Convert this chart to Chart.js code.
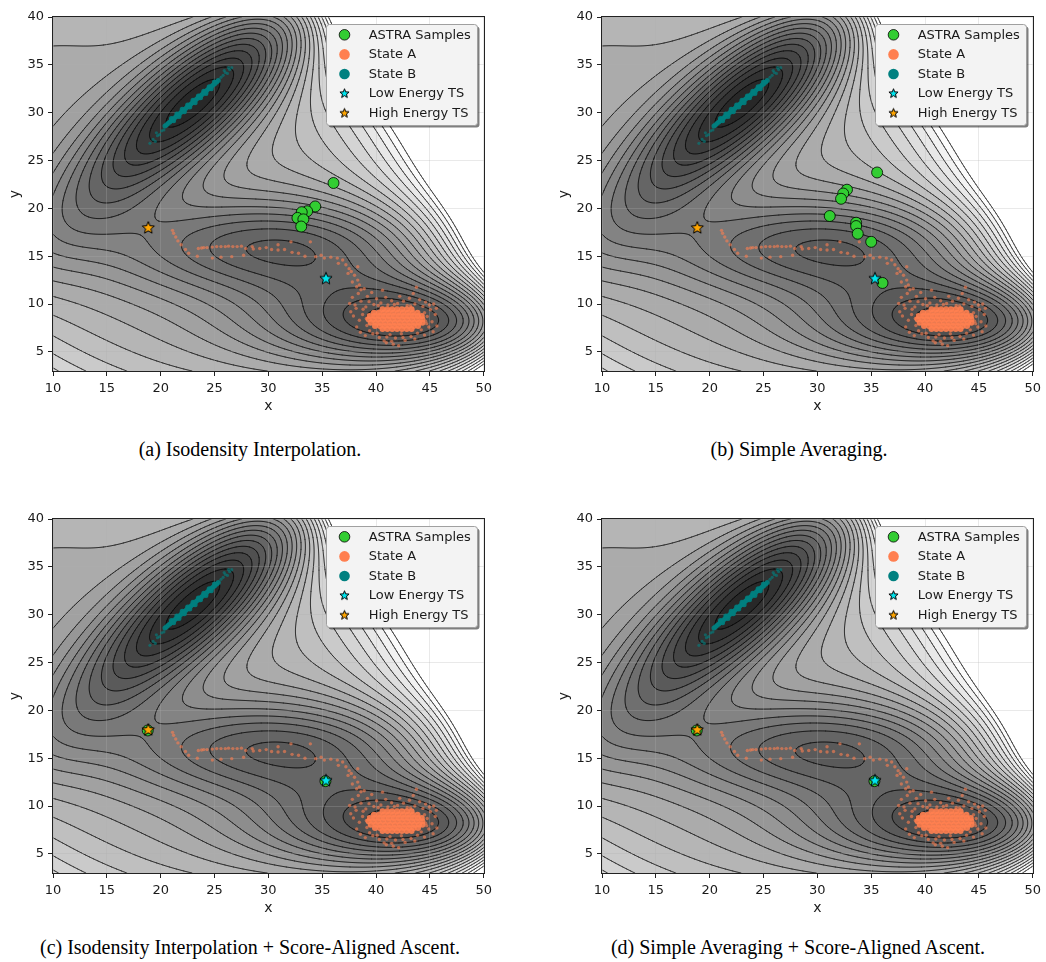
<!DOCTYPE html>
<html lang="en">
<head>
<meta charset="UTF-8" />
<title>ASTRA samples on the Mueller-Brown surface</title>
<script src="https://cdn.jsdelivr.net/npm/chart.js"></script>
<style>
  body { margin: 0; width: 1046px; height: 962px; background: #fff; position: relative; overflow: hidden; }
  .panel { position: absolute; }
  .caption {
    position: absolute; white-space: nowrap; transform: translateX(-50%);
    font-family: 'Liberation Serif', 'Times New Roman', serif; font-size: 20px; color: #000;
  }
</style>
</head>
<body>
<canvas id="panelA" class="panel" width="497" height="420" style="left:0px;top:0px"></canvas>
<canvas id="panelB" class="panel" width="497" height="420" style="left:549px;top:0px"></canvas>
<canvas id="panelC" class="panel" width="497" height="420" style="left:0px;top:502px"></canvas>
<canvas id="panelD" class="panel" width="497" height="420" style="left:549px;top:502px"></canvas>

<div class="caption" style="left:250px;top:438px">(a) Isodensity Interpolation.</div>
<div class="caption" style="left:799px;top:438px">(b) Simple Averaging.</div>
<div class="caption" style="left:250px;top:936px">(c) Isodensity Interpolation + Score-Aligned Ascent.</div>
<div class="caption" style="left:798px;top:936px">(d) Simple Averaging + Score-Aligned Ascent.</div>

<script>
  // --- axes ---
  const X_TICKS = [10, 15, 20, 25, 30, 35, 40, 45, 50];
  const Y_TICKS = [5, 10, 15, 20, 25, 30, 35, 40];

  // --- transition states ---
  const HIGH_TS = [[18.85, 17.95]];
  const LOW_TS = [[35.35, 12.65]];

  // --- ASTRA samples, one list per panel ---
  const ASTRA_A = [[36.05, 22.65], [34.35, 20.2], [33.6, 19.7], [33.1, 19.6], [32.7, 19.0], [33.25, 18.85], [33.05, 18.1]];
  const ASTRA_B = [[35.55, 23.75], [32.75, 21.95], [32.4, 21.55], [32.2, 21.0], [31.15, 19.2], [33.6, 18.5],
                   [33.6, 18.15], [33.75, 17.35], [35.0, 16.5], [36.05, 12.2]];
  const ASTRA_C = [[18.8, 17.9], [35.3, 12.6]];
  const ASTRA_D = [[18.8, 17.9], [35.3, 12.6]];

  // --- State A samples: dense core, halo around it, and the trail towards the saddles ---
  const STATE_A_CORE = [
    [40.6, 9.45], [41.05, 9.45], [41.5, 9.45], [41.95, 9.45], [42.4, 9.45], [42.85, 9.45], [43.3, 9.45],
    [39.8, 9.1], [40.25, 9.1], [40.7, 9.1], [41.15, 9.1], [41.6, 9.1], [42.05, 9.1], [42.5, 9.1], [42.95, 9.1], [43.4, 9.1], [43.85, 9.1],
    [39.4, 8.75], [39.85, 8.75], [40.3, 8.75], [40.75, 8.75], [41.2, 8.75], [41.65, 8.75], [42.1, 8.75], [42.55, 8.75],
    [43.0, 8.75], [43.45, 8.75], [43.9, 8.75], [44.25, 8.75],
    [39.3, 8.4], [39.75, 8.4], [40.2, 8.4], [40.65, 8.4], [41.1, 8.4], [41.55, 8.4], [42.0, 8.4], [42.45, 8.4],
    [42.9, 8.4], [43.35, 8.4], [43.8, 8.4], [44.3, 8.4],
    [39.5, 8.05], [39.95, 8.05], [40.4, 8.05], [40.85, 8.05], [41.3, 8.05], [41.75, 8.05], [42.2, 8.05], [42.65, 8.05],
    [43.1, 8.05], [43.55, 8.05], [44.0, 8.05], [44.3, 8.05],
    [39.9, 7.7], [40.35, 7.7], [40.8, 7.7], [41.25, 7.7], [41.7, 7.7], [42.15, 7.7], [42.6, 7.7], [43.05, 7.7], [43.5, 7.7], [43.9, 7.7],
    [40.6, 7.4], [41.05, 7.4], [41.5, 7.4], [41.95, 7.4], [42.4, 7.4], [42.85, 7.4], [43.3, 7.4]
  ];
  const STATE_A_HALO = [
    [37.55, 10.05], [37.8, 10.7], [38.15, 9.55], [38.35, 11.1], [38.6, 10.3], [38.75, 8.9], [38.9, 11.6], [39.05, 9.7],
    [39.2, 10.8], [39.4, 7.2], [38.45, 8.3], [37.9, 8.75], [38.2, 7.6], [38.55, 7.05], [39.0, 6.7], [39.35, 10.25],
    [39.6, 11.2], [39.8, 9.95], [40.05, 10.55], [40.3, 6.5], [40.45, 10.1], [40.6, 11.45], [40.75, 6.15], [40.9, 10.7],
    [41.1, 9.9], [41.3, 6.8], [41.45, 10.35], [41.6, 5.8], [41.8, 6.45], [42.0, 10.05], [42.2, 10.8], [42.35, 6.9],
    [42.55, 10.3], [42.7, 6.2], [42.9, 9.85], [43.1, 10.6], [43.25, 6.6], [43.45, 11.1], [43.6, 10.0], [43.75, 11.75],
    [43.85, 6.95], [44.05, 10.45], [44.2, 7.3], [44.35, 9.75], [44.5, 6.75], [44.6, 10.2], [44.75, 8.7], [44.9, 7.6],
    [45.05, 9.4], [45.2, 8.15], [45.35, 10.0], [45.5, 8.9], [45.65, 7.7], [45.3, 7.1], [44.95, 9.9], [45.6, 9.55],
    [37.65, 9.2], [38.05, 9.9], [39.15, 7.75], [39.7, 6.9], [40.1, 6.95], [41.0, 6.55], [42.5, 6.5], [43.6, 6.35],
    [44.7, 7.95], [38.8, 9.45], [39.1, 8.5], [44.6, 8.2], [44.5, 9.1], [40.2, 9.85], [43.2, 9.8], [41.7, 9.95],
    [40.95, 5.95], [42.1, 5.65], [41.45, 6.1]
  ];
  const STATE_A_TRAIL = [
    [21.1, 17.7], [21.2, 17.4], [21.4, 17.0], [21.6, 16.6], [21.9, 16.2], [22.3, 15.7], [22.6, 15.3],
    [23.4, 15.0], [23.5, 15.8], [23.8, 15.85], [24.0, 15.9], [24.3, 15.9], [24.8, 15.95], [25.2, 16.0],
    [25.6, 16.0], [26.0, 16.0], [26.3, 16.05], [26.7, 16.0], [27.1, 16.0], [27.5, 16.05], [24.8, 14.8],
    [25.6, 14.9], [26.6, 14.95], [27.7, 15.1], [27.9, 15.8], [28.5, 16.0], [28.6, 15.75], [29.2, 15.8],
    [29.8, 15.9], [30.3, 15.7], [30.9, 15.65], [30.9, 16.2], [31.5, 15.7], [32.1, 16.5], [32.2, 15.4],
    [32.8, 15.3], [33.4, 15.0], [33.9, 16.5], [34.4, 14.95], [34.9, 15.1], [35.2, 14.8], [35.8, 14.9],
    [36.4, 14.8], [36.9, 14.6], [36.5, 14.25], [37.2, 14.1], [37.4, 13.2], [37.5, 13.7], [37.7, 13.4],
    [38.0, 13.0], [38.3, 13.9], [37.8, 12.3], [38.3, 12.5], [38.45, 12.0], [38.6, 11.5], [38.2, 11.8]
  ];

  // --- State B samples: narrow diagonal band plus its two tails ---
  const STATE_B_CORE = [
    [20.4, 28.6], [20.55, 28.74], [20.7, 28.89], [20.85, 29.03], [21.0, 29.18], [21.15, 29.32], [21.3, 29.46],
    [21.45, 29.61], [21.6, 29.75], [21.75, 29.9], [21.9, 30.04], [22.05, 30.18], [22.2, 30.33], [22.35, 30.47],
    [22.5, 30.62], [22.65, 30.76], [22.8, 30.9], [22.95, 31.05], [23.1, 31.19], [23.25, 31.34], [23.4, 31.48],
    [23.55, 31.62], [23.7, 31.77], [23.85, 31.91], [24.0, 32.06], [24.15, 32.2], [24.3, 32.34], [24.45, 32.49],
    [24.6, 32.63], [24.75, 32.78], [24.9, 32.92], [25.05, 33.06], [25.2, 33.21], [25.35, 33.35],
    [21.2, 29.15], [21.7, 29.6], [22.2, 30.1], [22.7, 30.6], [23.2, 31.05], [23.7, 31.55], [24.2, 32.0], [24.7, 32.5],
    [21.0, 29.4], [21.5, 29.85], [22.0, 30.35], [22.5, 30.8], [23.0, 31.3], [23.5, 31.75], [24.0, 32.25], [24.5, 32.7], [25.0, 33.2]
  ];
  const STATE_B_TAIL = [
    [19.0, 26.8], [19.3, 27.2], [19.5, 27.0], [19.7, 27.6], [19.9, 27.7], [20.1, 28.1], [20.3, 28.2], [19.6, 27.9],
    [25.6, 33.7], [25.8, 33.9], [26.0, 34.2], [26.2, 34.1], [26.4, 34.5], [26.6, 34.7], [26.3, 34.7], [25.9, 34.4]
  ];

  // --- Mueller-Brown surface behind the samples ---
  const MB_A  = [-200, -100, -170, 15];
  const MB_a  = [-1, -1, -6.5, 0.7];
  const MB_b  = [0, 0, 11, 0.6];
  const MB_c  = [-10, -10, -6.5, 0.7];
  const MB_X0 = [1, 0, -0.5, -1];
  const MB_Y0 = [0, 0.5, 1.5, 1];
  const MAP_SCALE = 16, MAP_X0 = 32, MAP_Y0 = 8;   // figure coords = 16 * MB coords + offset
  const LEVELS = [-150, -137.73, -125.45, -113.18, -100.91, -88.64, -76.36, -64.09, -51.82, -39.55, -27.27, -15.0,
                  -2.73, 9.55, 21.82, 34.09, 46.36, 58.64, 70.91, 83.18, 95.45, 107.73, 120];

  function energy(x, y) {
    const u = (x - MAP_X0) / MAP_SCALE, v = (y - MAP_Y0) / MAP_SCALE;
    let e = 0;
    for (let k = 0; k < 4; k++) {
      const du = u - MB_X0[k], dv = v - MB_Y0[k];
      e += MB_A[k] * Math.exp(MB_a[k] * du * du + MB_b[k] * du * dv + MB_c[k] * dv * dv);
    }
    return e;
  }

  const toPts = arr => arr.map(([x, y]) => ({ x, y }));

  function makeStar(fill, rOut, rIn) {
    const c = document.createElement('canvas');
    const s = Math.ceil(rOut * 2 + 3);
    c.width = s; c.height = s;
    const g = c.getContext('2d');
    g.beginPath();
    for (let k = 0; k < 10; k++) {
      const r = k % 2 ? rIn : rOut;
      const ang = -Math.PI / 2 + k * Math.PI / 5;
      const px = s / 2 + r * Math.cos(ang), py = s / 2 + r * Math.sin(ang);
      k ? g.lineTo(px, py) : g.moveTo(px, py);
    }
    g.closePath();
    g.fillStyle = fill; g.fill();
    g.lineWidth = 1; g.strokeStyle = '#000'; g.lineJoin = 'miter'; g.stroke();
    return c;
  }
  const STAR_CYAN = makeStar('#00e5ee', 6.4, 2.8);
  const STAR_ORANGE = makeStar('#ffa500', 6.4, 2.8);
  const STAR_CYAN_SMALL = makeStar('#00e5ee', 4.8, 2.1);
  const STAR_ORANGE_SMALL = makeStar('#ffa500', 4.8, 2.1);

  // filled bands + contour lines, painted before the grid so the grid sits on top
  const surface = {
    id: 'surface',
    beforeDraw(chart) {
      const { ctx, chartArea: a, scales: { x, y } } = chart;
      const L = Math.round(a.left), T = Math.round(a.top);
      const W = Math.round(a.right) - L, H = Math.round(a.bottom) - T;
      const nBands = LEVELS.length - 1;
      const vTop = LEVELS[nBands];

      const img = ctx.createImageData(W, H);
      const cx = [], cy = [];
      for (let i = 0; i < W; i++) cx.push(x.getValueForPixel(L + i + 0.5));
      for (let j = 0; j < H; j++) cy.push(y.getValueForPixel(T + j + 0.5));
      for (let j = 0; j < H; j++) {
        for (let i = 0; i < W; i++) {
          const e = energy(cx[i], cy[j]);
          let g = 255;
          if (e <= vTop) {
            let k = 0;
            while (k < nBands - 1 && e > LEVELS[k + 1]) k++;
            // gray colormap at ~85% opacity over white, one shade per band
            g = Math.round(40 + 212 * k / (nBands - 1));
          }
          const p = (j * W + i) * 4;
          img.data[p] = g; img.data[p + 1] = g; img.data[p + 2] = g; img.data[p + 3] = 255;
        }
      }
      ctx.putImageData(img, L, T);

      // marching squares on a 2px lattice
      const S = 2;
      const nx = Math.ceil(W / S) + 1, ny = Math.ceil(H / S) + 1;
      const px = [], py = [];
      for (let i = 0; i < nx; i++) px.push(L + Math.min(i * S, W));
      for (let j = 0; j < ny; j++) py.push(T + Math.min(j * S, H));
      const vx = px.map(p => x.getValueForPixel(p)), vy = py.map(p => y.getValueForPixel(p));
      const grid = new Float64Array(nx * ny);
      for (let j = 0; j < ny; j++) for (let i = 0; i < nx; i++) grid[j * nx + i] = energy(vx[i], vy[j]);

      ctx.save();
      ctx.beginPath(); ctx.rect(L, T, W, H); ctx.clip();
      ctx.strokeStyle = 'rgba(0,0,0,0.8)';
      ctx.lineWidth = 0.8;
      ctx.lineCap = 'round';
      ctx.beginPath();
      const seg = (p, q) => { ctx.moveTo(p[0], p[1]); ctx.lineTo(q[0], q[1]); };
      for (let j = 0; j < ny - 1; j++) {
        for (let i = 0; i < nx - 1; i++) {
          const a0 = grid[j * nx + i], a1 = grid[j * nx + i + 1];
          const a2 = grid[(j + 1) * nx + i + 1], a3 = grid[(j + 1) * nx + i];
          const lo = Math.min(a0, a1, a2, a3), hi = Math.max(a0, a1, a2, a3);
          const x0 = px[i], x1 = px[i + 1], y0 = py[j], y1 = py[j + 1];
          for (const lev of LEVELS) {
            if (lev <= lo || lev > hi) continue;
            const f = (p, q) => (lev - p) / (q - p);
            const tp = (a0 > lev) !== (a1 > lev) ? [x0 + f(a0, a1) * (x1 - x0), y0] : null;
            const rt = (a1 > lev) !== (a2 > lev) ? [x1, y0 + f(a1, a2) * (y1 - y0)] : null;
            const bt = (a3 > lev) !== (a2 > lev) ? [x0 + f(a3, a2) * (x1 - x0), y1] : null;
            const lf = (a0 > lev) !== (a3 > lev) ? [x0, y0 + f(a0, a3) * (y1 - y0)] : null;
            const hits = [tp, rt, bt, lf].filter(Boolean);
            if (hits.length === 2) {
              seg(hits[0], hits[1]);
            } else if (hits.length === 4) {
              const mid = (a0 + a1 + a2 + a3) / 4;
              if ((mid > lev) === (a0 > lev)) { seg(tp, rt); seg(bt, lf); }
              else { seg(tp, lf); seg(rt, bt); }
            }
          }
        }
      }
      ctx.stroke();
      ctx.restore();
    }
  };

  // axes frame and the matplotlib-like legend box
  const frameAndLegend = {
    id: 'frameAndLegend',
    afterDraw(chart) {
      const { ctx, chartArea: a } = chart;
      const L = Math.round(a.left), T = Math.round(a.top);
      const R = Math.round(a.right), B = Math.round(a.bottom);
      ctx.save();
      ctx.strokeStyle = '#222';
      ctx.lineWidth = 1;
      ctx.strokeRect(L - 0.5, T - 0.5, R - L + 1, B - T + 1);

      const w = 151, h = 101, bx = R - 7 - w, by = T + 7;
      ctx.fillStyle = 'rgba(0,0,0,0.5)';
      ctx.beginPath(); ctx.roundRect(bx + 2.5, by + 2.5, w, h, 3); ctx.fill();
      ctx.fillStyle = '#f3f3f3';
      ctx.strokeStyle = '#a0a0a0';
      ctx.beginPath(); ctx.roundRect(bx + 0.5, by + 0.5, w, h, 3); ctx.fill(); ctx.stroke();

      ctx.font = "13px 'DejaVu Sans'";
      ctx.textBaseline = 'middle';
      ctx.textAlign = 'left';
      chart.data.datasets.forEach((ds, k) => {
        const yy = by + 10.8 + k * 19.6, mx = bx + 18.5;
        if (ds.legendStar) {
          const s = ds.legendStar;
          ctx.drawImage(s, mx - s.width / 2, yy - s.height / 2);
        } else {
          ctx.beginPath(); ctx.arc(mx, yy, 5.3, 0, Math.PI * 2);
          ctx.fillStyle = ds.legendColor; ctx.fill();
          if (ds.legendEdge) { ctx.lineWidth = 0.8; ctx.strokeStyle = '#000'; ctx.stroke(); }
        }
        ctx.fillStyle = '#1a1a1a';
        ctx.fillText(ds.label, bx + 42.7, yy + 0.5);
      });
      ctx.restore();
    }
  };

  Chart.defaults.font.family = "'DejaVu Sans', sans-serif";
  Chart.defaults.font.size = 13;
  Chart.defaults.color = '#1a1a1a';

  function makePanel(id, astra) {
    const stateA = [...STATE_A_CORE, ...STATE_A_HALO, ...STATE_A_TRAIL];
    const stateB = [...STATE_B_CORE, ...STATE_B_TAIL];
    return new Chart(document.getElementById(id), {
      type: 'scatter',
      data: {
        datasets: [
          {
            label: 'ASTRA Samples', data: toPts(astra), order: 2,
            pointRadius: 5.5, pointBackgroundColor: '#32cd32', pointBorderColor: '#000', pointBorderWidth: 0.8,
            legendColor: '#32cd32', legendEdge: true
          },
          {
            label: 'State A', data: toPts(stateA), order: 4, pointBorderWidth: 0,
            pointRadius: stateA.map((p, i) => i < STATE_A_CORE.length ? 3 : 1.7),
            pointBackgroundColor: stateA.map((p, i) => i < STATE_A_CORE.length ? 'rgba(255,127,80,0.9)' : 'rgba(255,127,80,0.6)'),
            legendColor: '#ff7f50'
          },
          {
            label: 'State B', data: toPts(stateB), order: 3, pointBorderWidth: 0,
            pointRadius: stateB.map((p, i) => i < STATE_B_CORE.length ? 2.5 : 1.6),
            pointBackgroundColor: stateB.map((p, i) => i < STATE_B_CORE.length ? 'rgba(0,128,128,0.9)' : 'rgba(0,128,128,0.6)'),
            legendColor: '#008080'
          },
          {
            label: 'Low Energy TS', data: toPts(LOW_TS), order: 1,
            pointStyle: STAR_CYAN, legendStar: STAR_CYAN_SMALL
          },
          {
            label: 'High Energy TS', data: toPts(HIGH_TS), order: 0,
            pointStyle: STAR_ORANGE, legendStar: STAR_ORANGE_SMALL
          }
        ]
      },
      options: {
        responsive: false,
        animation: false,
        devicePixelRatio: 1,
        events: [],
        layout: { padding: { top: 17, right: 10, bottom: 0, left: 0 } },
        plugins: { legend: { display: false }, tooltip: { enabled: false } },
        scales: {
          x: {
            type: 'linear', min: 10, max: 50,
            afterBuildTicks: s => { s.ticks = X_TICKS.map(v => ({ value: v })); },
            afterFit: s => { s.height = 49; },
            ticks: { padding: 5, color: '#1a1a1a', font: { size: 13 }, maxRotation: 0 },
            grid: { color: 'rgba(176,176,176,0.35)', lineWidth: 0.8, borderDash: [3, 2],
                    tickLength: 5, tickColor: '#222', tickWidth: 1 },
            border: { display: false },
            title: { display: true, text: 'x', color: '#1a1a1a', font: { size: 14 }, padding: { top: 0, bottom: 5 } }
          },
          y: {
            type: 'linear', min: 3, max: 40,
            afterBuildTicks: s => { s.ticks = Y_TICKS.map(v => ({ value: v })); },
            afterFit: s => { s.width = 53; },
            ticks: { padding: 4, color: '#1a1a1a', font: { size: 13 } },
            grid: { color: 'rgba(176,176,176,0.35)', lineWidth: 0.8, borderDash: [3, 2],
                    tickLength: 5, tickColor: '#222', tickWidth: 1 },
            border: { display: false },
            title: { display: true, text: 'y', color: '#1a1a1a', font: { size: 14 }, padding: { top: 7, bottom: 0 } }
          }
        }
      },
      plugins: [surface, frameAndLegend]
    });
  }

  makePanel('panelA', ASTRA_A);
  makePanel('panelB', ASTRA_B);
  makePanel('panelC', ASTRA_C);
  makePanel('panelD', ASTRA_D);
</script>
</body>
</html>
